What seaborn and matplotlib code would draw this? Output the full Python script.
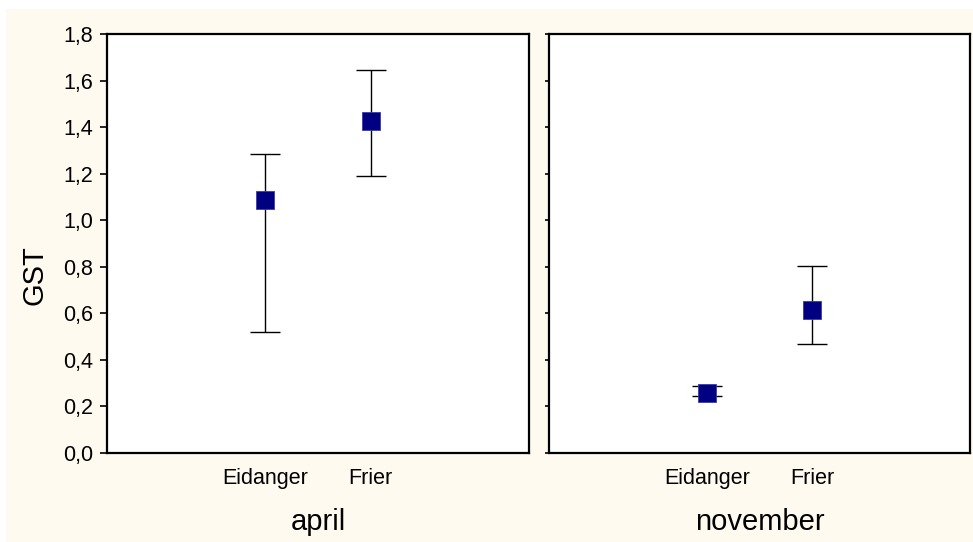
import pandas as pd
import matplotlib.pyplot as plt
import seaborn as sns
from matplotlib.patches import Rectangle

sites = ['Eidanger', 'Frier']
months = ['april', 'november']
gst_mean = [1.085, 1.426, 0.259, 0.614]
gst_low = [0.520, 1.190, 0.246, 0.467]
gst_high = [1.286, 1.645, 0.289, 0.802]

df = pd.DataFrame({
    'site': sites * 2,
    'month': [m for m in months for _ in sites],
    'GST': gst_mean,
    'low': gst_low,
    'high': gst_high,
})

sns.set_theme(style="ticks")
plt.rcParams['font.family'] = ['Liberation Sans', 'DejaVu Sans']
plt.rcParams['text.color'] = 'black'
plt.rcParams['axes.labelcolor'] = 'black'
plt.rcParams['xtick.color'] = 'black'
plt.rcParams['ytick.color'] = 'black'

fig = plt.figure(figsize=(9.73, 5.42), dpi=100)
fig.patch.set_facecolor('white')
fig.patches.append(Rectangle((6 / 973, 0), 1, 1 - 9 / 542, transform=fig.transFigure,
                             facecolor='#fffaf0', edgecolor='none', zorder=-10))

ax_pos = {'april': [107 / 973, 1 - 453 / 542, 422 / 973, 419 / 542],
          'november': [549 / 973, 1 - 453 / 542, 421 / 973, 419 / 542]}

for month in months:
    ax = fig.add_axes(ax_pos[month])
    ax.set_facecolor('white')
    sub = df[df['month'] == month].reset_index(drop=True)
    xs = list(range(len(sub)))
    ax.errorbar(xs, sub['GST'], yerr=[sub['GST'] - sub['low'], sub['high'] - sub['GST']],
                fmt='none', ecolor='black', elinewidth=1, capsize=11, capthick=1, zorder=2)
    sns.scatterplot(x=xs, y=sub['GST'], marker='s', s=175, color='#000080',
                    edgecolor='#3a3aa8', linewidth=0.6, ax=ax, zorder=3, legend=False)
    ax.set_xlim(-1.5, 2.5)
    ax.set_ylim(0, 1.8)
    ax.set_xticks(xs)
    ax.set_xticklabels(sub['site'], fontsize=15.5, va='baseline')
    ax.tick_params(axis='x', length=0, pad=22)
    ax.set_yticks([i / 5 for i in range(10)])
    ax.set_xlabel(month, fontsize=21, va='baseline')
    ax.xaxis.set_label_coords(0.5, -0.184)
    ax.set_ylabel('')
    for s in ax.spines.values():
        s.set_visible(True)
        s.set_linewidth(1.6)
        s.set_color('black')
    if month == 'april':
        ax.set_yticklabels([f'{i / 5:.1f}'.replace('.', ',') for i in range(10)], fontsize=15.5)
        ax.tick_params(axis='y', length=5, width=1.2, pad=5)
        ax.set_ylabel('GST', fontsize=21)
        ax.yaxis.set_label_coords(-0.171, 0.425)
        ax.yaxis.label.set_va('center')
    else:
        ax.set_yticklabels([])
        ax.tick_params(axis='y', length=3, width=1.2)

fig.savefig('out.png', dpi=100, facecolor=fig.get_facecolor())
